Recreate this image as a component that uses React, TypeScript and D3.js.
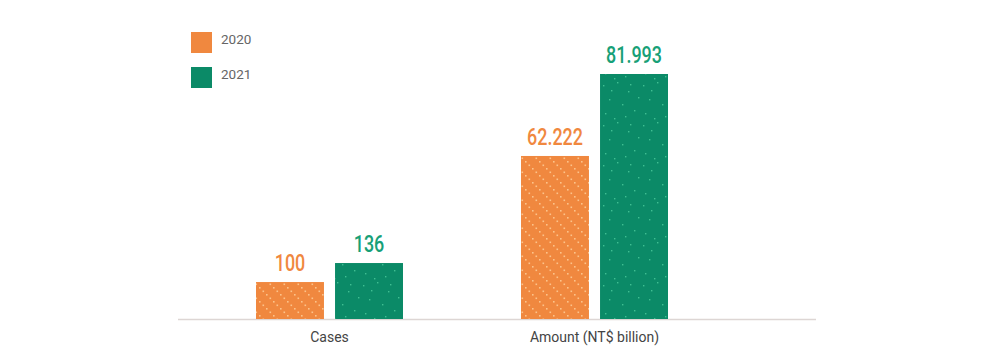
import React from 'react';
import * as d3 from 'd3';

const categories = ['Cases', 'Amount (NT$ billion)'];
const years = ['2020', '2021'];
const values2020 = [100, 62.222];
const values2021 = [136, 81.993];
const valueLabels2020 = ['100', '62.222'];
const valueLabels2021 = ['136', '81.993'];

const width = 1000;
const height = 354;
const baseY = 319;
const topY = 74;

// each group sits on its own scale, the bars do not start at zero
const yCases = d3.scaleLinear().domain([30, 494]).range([baseY, topY]);
const yAmount = d3.scaleLinear().domain([22.9, 81.993]).range([baseY, topY]);
const yScales = [yCases, yAmount];

const x0 = d3.scaleBand().domain(categories).range([197, 727]);
const x1 = d3.scaleBand().domain(years).range([-73.5, 73.5]).paddingInner(0.14);

const fills = ['#f0883f', '#0b8a67'];
const textColors = ['#f0883f', '#17a077'];
const patternIds = ['dotsOrange', 'specksGreen'];

const greenSpecks = [
  [3, 5], [17, 2], [28, 11], [9, 19], [22, 24], [34, 30], [5, 33], [14, 38], [30, 4], [38, 17], [25, 36], [11, 10]
];

export default function App() {
  const series = [values2020, values2021];
  const labels = [valueLabels2020, valueLabels2021];
  const diag = d3.range(0, 14, 3.5);

  return (
    <svg width={width} height={height} style={{ position: 'absolute', left: 0, top: 0 }}>
      <defs>
        <pattern id="dotsOrange" width={14} height={14} patternUnits="userSpaceOnUse">
          <rect width={14} height={14} fill={fills[0]} />
          {diag.map((d) => (
            <rect key={d} x={d} y={d} width={1.6} height={1.6} fill="#fcc38a" />
          ))}
        </pattern>
        <pattern id="specksGreen" width={40} height={40} patternUnits="userSpaceOnUse">
          <rect width={40} height={40} fill={fills[1]} />
          {greenSpecks.map(([sx, sy], i) => (
            <rect key={i} x={sx} y={sy} width={1.4} height={1.4} fill="#3fbf92" />
          ))}
        </pattern>
      </defs>

      {/* legend */}
      {years.map((yr, i) => (
        <g key={yr} transform={`translate(191, ${32 + i * 35})`}>
          <rect width={21} height={21} fill={fills[i]} />
          <text x={30} y={12} fontFamily="Roboto, sans-serif" fontSize={13.5} fill="#666">{yr}</text>
        </g>
      ))}

      {/* baseline */}
      <line x1={178} x2={816} y1={baseY + 0.5} y2={baseY + 0.5} stroke="#ddd6d4" strokeWidth={1.5} />

      {categories.map((cat, ci) => {
        const cx = (x0(cat) ?? 0) + x0.bandwidth() / 2;
        const y = yScales[ci];
        return (
          <g key={cat}>
            {years.map((yr, si) => {
              const v = series[si][ci];
              const bx = cx + (x1(yr) ?? 0);
              return (
                <g key={yr}>
                  <rect
                    x={bx}
                    y={y(v)}
                    width={x1.bandwidth()}
                    height={baseY - y(v)}
                    fill={`url(#${patternIds[si]})`}
                  />
                  <text
                    transform={`translate(${bx + x1.bandwidth() / 2}, ${y(v) - 11}) scale(0.78, 1)`}
                    textAnchor="middle"
                    fontFamily="Roboto, sans-serif"
                    fontWeight={500}
                    fontSize={23}
                    fill={textColors[si]}
                  >
                    {labels[si][ci]}
                  </text>
                </g>
              );
            })}
            <text x={cx} y={342} textAnchor="middle" fontFamily="Roboto, sans-serif" fontSize={14} fill="#444">
              {cat}
            </text>
          </g>
        );
      })}
    </svg>
  );
}
